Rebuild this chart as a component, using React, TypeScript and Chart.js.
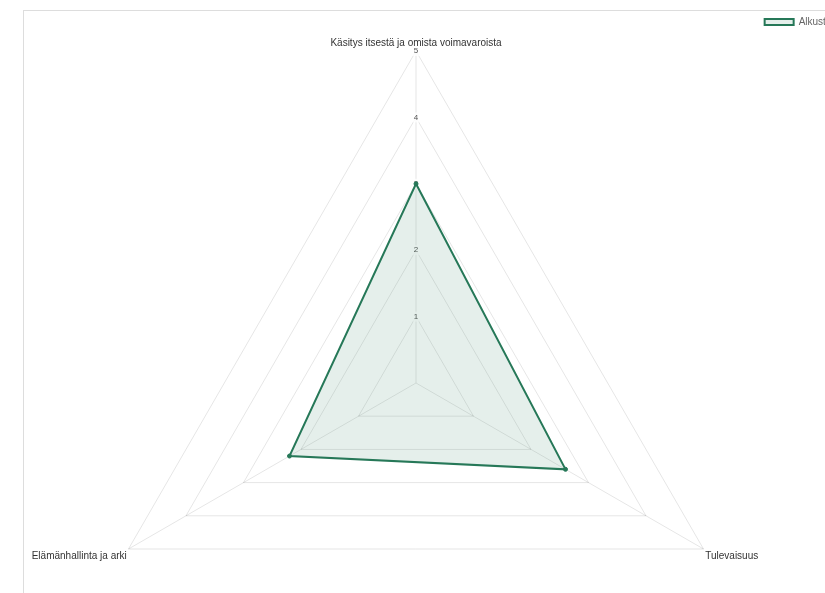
import { useEffect, useRef } from "react";
import { Chart, registerables } from "chart.js";

Chart.register(...registerables);

// ---- data ----
const categories: string[] = [
  "Käsitys itsestä ja omista voimavaroista",
  "Tulevaisuus",
  "Elämänhallinta ja arki",
];
const seriesLabel = "Alkustaso";
const seriesValues: number[] = [3, 2.6, 2.2];
const scaleMin = 0;
const scaleMax = 5;
const scaleStep = 1;

const FONT = "Arial, 'Liberation Sans', Helvetica, sans-serif";
const GREEN = "rgb(38, 120, 88)";
const FILL = "rgba(38, 120, 88, 0.12)";

export default function App() {
  const ref = useRef<HTMLCanvasElement>(null);

  useEffect(() => {
    if (!ref.current) return;
    const chart = new Chart(ref.current, {
      type: "radar",
      data: {
        labels: categories,
        datasets: [
          {
            label: seriesLabel,
            data: seriesValues,
            borderColor: GREEN,
            backgroundColor: FILL,
            borderWidth: 2,
            pointRadius: 2,
            pointBorderWidth: 1,
            pointBackgroundColor: GREEN,
            pointBorderColor: GREEN,
          },
        ],
      },
      options: {
        responsive: false,
        animation: false,
        layout: { padding: 0 },
        plugins: {
          legend: {
            position: "top",
            align: "end",
            maxHeight: 26,
            labels: {
              boxWidth: 29,
              boxHeight: 6,
              padding: 10,
              color: "#666",
              font: { size: 10, family: FONT },
            },
          },
          tooltip: { enabled: false },
        },
        scales: {
          r: {
            min: scaleMin,
            max: scaleMax,
            ticks: {
              stepSize: scaleStep,
              color: "#555",
              font: { size: 8, family: FONT },
              backdropPadding: 1,
            },
            pointLabels: {
              color: "#333",
              padding: -3,
              font: { size: 10, family: FONT },
            },
            grid: { color: "rgba(0,0,0,0.1)" },
            angleLines: { color: "rgba(0,0,0,0.1)" },
          },
        },
      },
    });
    return () => chart.destroy();
  }, []);

  return (
    <div
      style={{
        position: "fixed",
        left: 0,
        top: 0,
        width: "100vw",
        height: "100vh",
        overflow: "hidden",
        background: "#fff",
      }}
    >
      <div
        style={{
          position: "absolute",
          left: 23,
          top: 10,
          right: 0,
          bottom: 0,
          borderLeft: "1px solid #ddd",
          borderTop: "1px solid #ddd",
        }}
      />
      <canvas
        ref={ref}
        width={872}
        height={718}
        style={{ position: "absolute", left: -20, top: 7, width: 872, height: 718, display: "block" }}
      />
    </div>
  );
}
